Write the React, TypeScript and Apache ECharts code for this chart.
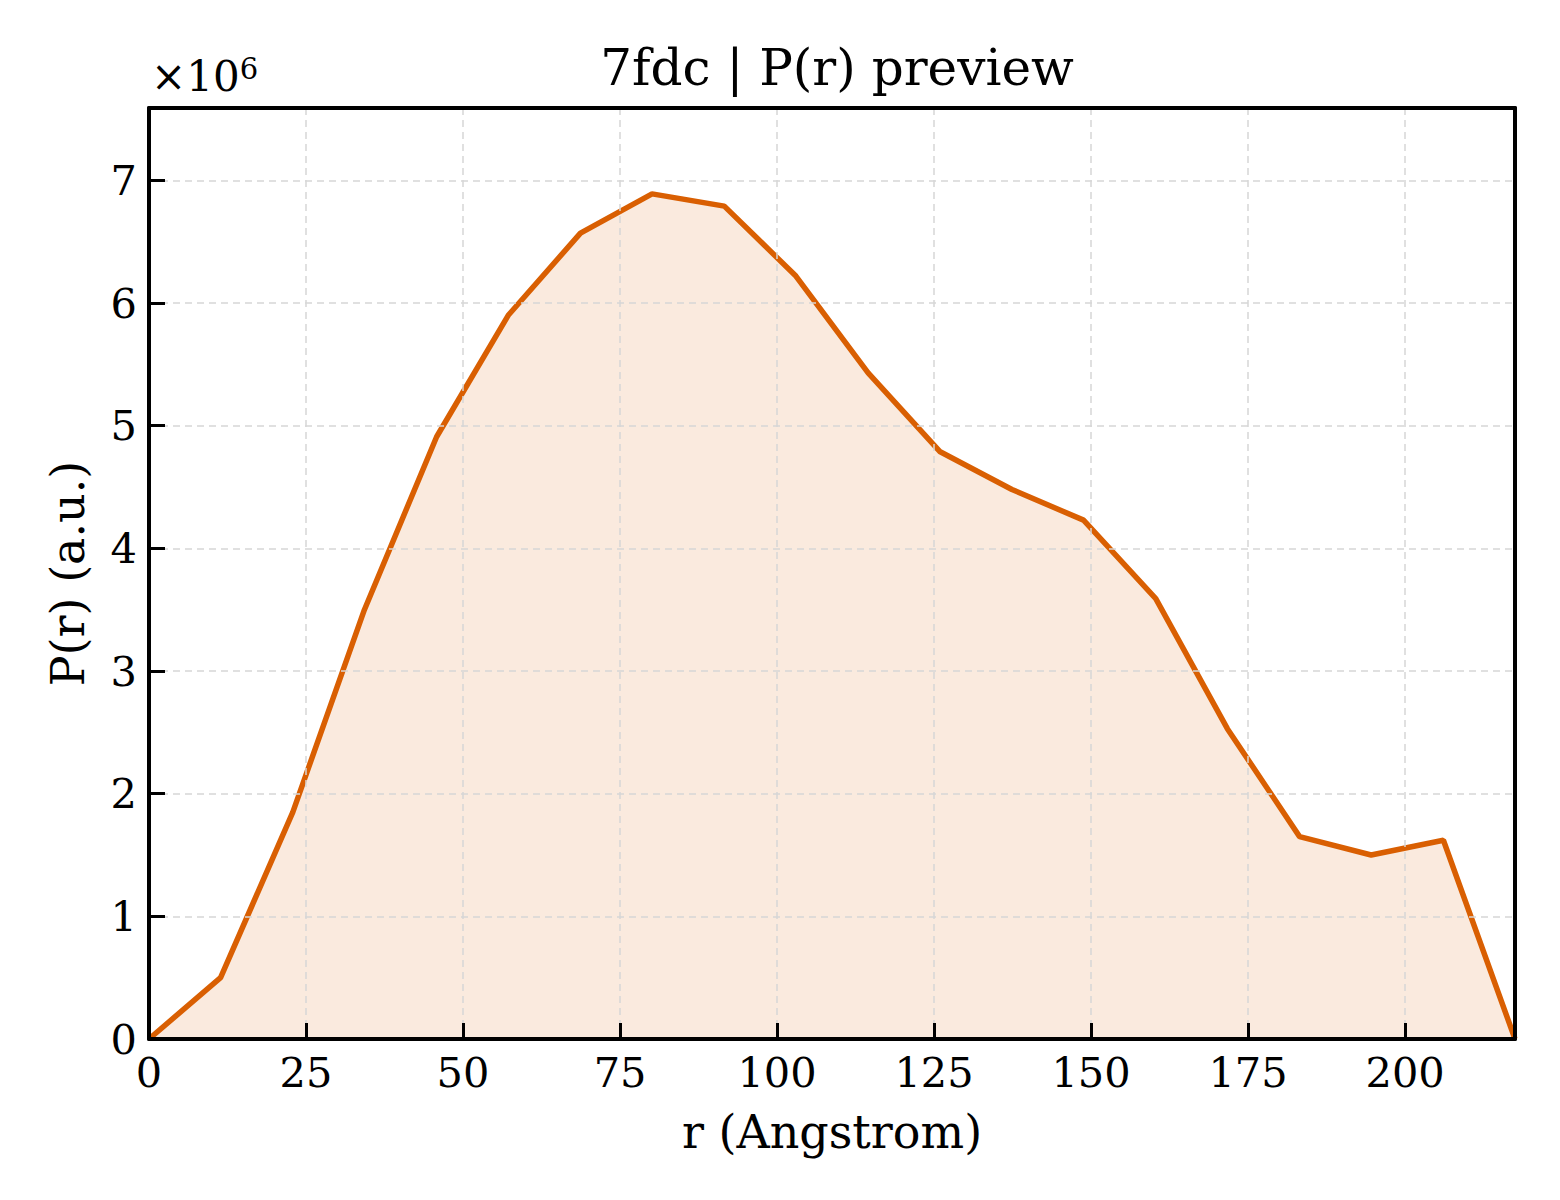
import { useEffect, useRef } from "react";
import * as echarts from "echarts";

// r values (Angstrom) and P(r) in units of 1e6
const rValues = [
  0, 11.4, 22.9, 34.3, 45.8, 57.2, 68.7, 80.1, 91.6, 103.0, 114.5, 125.9,
  137.4, 148.8, 160.3, 171.7, 183.2, 194.6, 206.1, 217.5,
];
const prValues = [
  0, 0.5, 1.85, 3.5, 4.91, 5.9, 6.57, 6.89, 6.79, 6.22, 5.43, 4.79, 4.48,
  4.23, 3.59, 2.53, 1.65, 1.5, 1.62, 0,
];

const xMax = 217.5;
const yMax = 7.59;

const FONT = "'DejaVu Serif', serif";
const LINE_COLOR = "#d95f02";

const gridLine = {
  show: true,
  showMinLine: false,
  showMaxLine: false,
  lineStyle: { color: "#d6d6d6", width: 1.5, type: [7, 5] },
};

// plain frame axes for the top and right edges
const frameAxis = {
  type: "value",
  axisLine: { show: true, onZero: false, lineStyle: { color: "#000", width: 4 } },
  axisTick: { show: false },
  axisLabel: { show: false },
  splitLine: { show: false },
  z: 5,
};

function App() {
  const chartRef = useRef<HTMLDivElement>(null);

  useEffect(() => {
    if (!chartRef.current) return;
    const chart = echarts.init(chartRef.current, undefined, { renderer: "svg" });

    const points = rValues.map((r, i) => [r, prValues[i]]);

    chart.setOption({
      animation: false,
      backgroundColor: "#ffffff",
      title: {
        text: "7fdc | P(r) preview",
        left: 832,
        top: 38,
        textAlign: "center",
        textStyle: {
          fontFamily: FONT,
          fontWeight: "normal",
          fontSize: 50,
          color: "#000",
        },
      },
      graphic: [
        {
          type: "text",
          left: 151,
          top: 54,
          style: {
            text: "×10{sup|6}",
            fontFamily: FONT,
            fontSize: 42,
            fill: "#000",
            rich: {
              sup: {
                fontFamily: FONT,
                fontSize: 29,
                verticalAlign: "top",
                padding: [0, 0, 16, 0],
              },
            },
          },
        },
      ],
      grid: {
        left: 149,
        right: 45,
        top: 108,
        bottom: 161,
      },
      xAxis: [
        {
          type: "value",
          min: 0,
          max: xMax,
          interval: 25,
          name: "r (Angstrom)",
          nameLocation: "middle",
          nameGap: 70,
          nameTextStyle: { fontFamily: FONT, fontSize: 46, color: "#000" },
          axisLine: { show: true, onZero: false, lineStyle: { color: "#000", width: 4 } },
          axisTick: {
            show: true,
            inside: true,
            length: 16,
            lineStyle: { color: "#000", width: 3 },
          },
          axisLabel: {
            fontFamily: FONT,
            fontSize: 41.5,
            color: "#000",
            margin: 12,
            formatter: (v: number) => (v % 25 === 0 ? String(v) : ""),
          },
          splitLine: gridLine,
          z: 4,
        },
        { ...frameAxis, position: "top", min: 0, max: xMax },
      ],
      yAxis: [
        {
          type: "value",
          min: 0,
          max: yMax,
          interval: 1,
          name: "P(r) (a.u.)",
          nameLocation: "middle",
          nameGap: 58,
          nameTextStyle: { fontFamily: FONT, fontSize: 46, color: "#000" },
          axisLine: { show: true, onZero: false, lineStyle: { color: "#000", width: 4 } },
          axisTick: {
            show: true,
            inside: true,
            length: 16,
            lineStyle: { color: "#000", width: 3 },
          },
          axisLabel: {
            fontFamily: FONT,
            fontSize: 41.5,
            color: "#000",
            margin: 12,
            formatter: (v: number) => (Number.isInteger(v) ? String(v) : ""),
          },
          splitLine: gridLine,
          z: 4,
        },
        { ...frameAxis, position: "right", min: 0, max: yMax },
      ],
      series: [
        {
          type: "line",
          data: points,
          symbol: "none",
          lineStyle: { color: LINE_COLOR, width: 5.5 },
          areaStyle: { color: LINE_COLOR, opacity: 0.13 },
          z: 3,
        },
      ],
    });

    return () => {
      chart.dispose();
    };
  }, []);

  return (
    <div
      ref={chartRef}
      style={{ position: "fixed", left: 0, top: 0, width: 1560, height: 1200 }}
    />
  );
}

export default App;
